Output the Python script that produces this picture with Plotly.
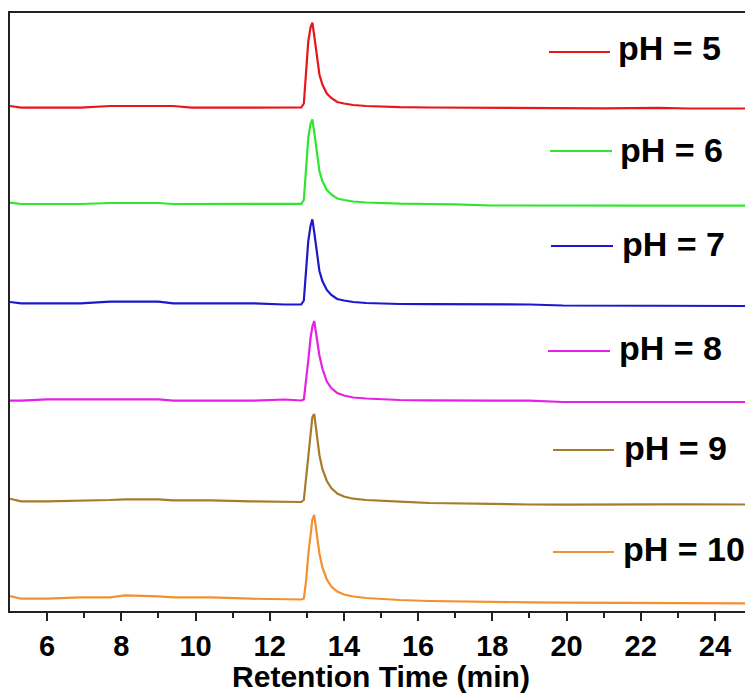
import plotly.graph_objects as go

# Retention time grid (min)
time_min = [5.0, 5.3, 6.0, 6.9, 7.7, 8.1, 9.0, 9.4, 9.9, 10.4, 11.5, 12.4, 12.85,
            12.92, 12.98, 13.04, 13.1, 13.15, 13.2, 13.27, 13.34, 13.42, 13.54,
            13.66, 13.82, 14.0, 14.25, 14.6, 15.0, 15.5, 16.3, 17.0, 18.0, 19.0,
            19.9, 21.0, 22.5, 23.3, 25.0]

# Stacked detector signals (arbitrary units, offsets included)
ph5 = [505, 503.3, 503.3, 503.3, 505, 505, 505, 505, 503.3, 503.3, 503.3, 503.3, 503.5,
       507.5, 541.5, 569.5, 583.5, 588.3, 575.5, 554.5, 536.5, 526.5, 517.5,
       513, 509, 507.5, 506, 505, 504.3, 503.8, 503.5, 503.3, 503, 503,
       503, 502.7, 503.2, 502.5, 502.5]
ph6 = [408.3, 407, 407, 407, 408, 408, 408, 407, 407, 407, 407, 407, 407.2,
       411, 445, 473, 487, 491.7, 479, 458, 440, 430, 421,
       416.5, 412.5, 411, 409.5, 408.5, 407.8, 407.3, 407, 406.7, 405.5, 405.3,
       405.3, 405.3, 405.3, 405.3, 405.3]
ph7 = [309, 307.7, 307.7, 307.7, 309.3, 309.3, 309.3, 307.7, 307.7, 307.7, 307.7, 306.5, 306.5,
       310.5, 343, 370, 385, 391.7, 379, 358, 340, 330, 321,
       316, 312, 310.5, 309, 308, 307.5, 307, 306.8, 306.7, 306.7, 306.5,
       305.5, 305.3, 305.3, 305.5, 305]
ph8 = [210.3, 210.3, 211.7, 211.7, 211.7, 211.7, 211.7, 210.3, 210.3, 210.3, 210.3, 211.5, 210.5,
       211.5, 228.5, 250.5, 272.5, 284.5, 290.0, 272.5, 255.5, 242.5, 229.5,
       223, 218, 215.5, 213.5, 212.5, 211.5, 211, 210.6, 210.3, 210.3, 210.3,
       209, 209, 209, 209, 209]
ph9 = [112.3, 109.7, 109.7, 110, 111, 111.7, 111.7, 110.7, 110.7, 110.7, 109.7, 109, 109,
       111, 133, 161, 183, 194, 197, 175, 156, 142, 130,
       123, 117.5, 114.5, 112.3, 111, 110, 109.3, 108, 107.5, 107, 106.5,
       106.3, 106.7, 106.7, 106.7, 106.5]
ph10 = [15, 12.3, 12.3, 13.7, 13.7, 15.7, 14.7, 13.7, 13.7, 13.7, 12.3, 11.5, 11.5,
        12.5, 29.5, 56.5, 79.5, 91.5, 96, 75.5, 57.5, 43.5, 31.5,
        24.5, 19.5, 16.5, 14.5, 13, 12, 11, 10, 9.5, 9, 8.7,
        8.3, 8.3, 8, 7.8, 7.7]

labels = ["pH = 5", "pH = 6", "pH = 7", "pH = 8", "pH = 9", "pH = 10"]
series = [ph5, ph6, ph7, ph8, ph9, ph10]
colors = ["#E8161B", "#2EE62E", "#1A1ACC", "#E620E6", "#A67C2A", "#F39130"]

x_ticks = [6, 8, 10, 12, 14, 16, 18, 20, 22, 24]

# page body has an 8px default margin; size the figure so that it fits the window
OFF = 8
W, H = 753 - OFF, 693 - OFF
ML, MR, MT, MB = 10 - OFF, 1, 13 - OFF, 82
pw, ph = W - ML - MR, H - MT - MB

fig = go.Figure()
for lab, ys, col in zip(labels, series, colors):
    fig.add_trace(go.Scatter(x=time_min, y=ys, mode="lines", name=lab,
                             line=dict(color=col, width=2.2), showlegend=False))

# custom legend placement (window pixel positions converted to paper coords)
leg_line = [(549, 610, 52), (550, 612, 151), (551, 613, 246),
            (548, 610, 351), (553, 614, 450), (553, 614, 552)]
leg_text = [(616, 48), (618, 150), (620, 244), (617, 348), (622, 448), (621, 549)]

def px(x):
    return (x - 10) / pw

def py(y):
    return (611 - y) / ph

font_family = "Liberation Sans, Arial, sans-serif"
for (x0, x1, yl), (tx, ty), lab, col in zip(leg_line, leg_text, labels, colors):
    fig.add_shape(type="line", xref="paper", yref="paper",
                  x0=px(x0), x1=px(x1), y0=py(yl), y1=py(yl),
                  line=dict(color=col, width=2.2))
    fig.add_annotation(xref="paper", yref="paper", x=px(tx), y=py(ty),
                       text="<b>" + lab + "</b>", showarrow=False,
                       xanchor="left", yanchor="middle",
                       font=dict(family=font_family, size=34, color="black"))

fig.update_layout(
    width=W, height=H,
    margin=dict(l=ML, r=MR, t=MT, b=MB, autoexpand=False),
    paper_bgcolor="white", plot_bgcolor="white",
    font=dict(family=font_family, color="black"),
    xaxis=dict(range=[5, 25], tickvals=x_ticks,
               ticktext=["<b>%d</b>" % v for v in x_ticks],
               ticks="outside", ticklen=8, tickwidth=2, tickcolor="#222",
               minor=dict(tickvals=[7, 9, 11, 13, 15, 17, 19, 21, 23],
                          ticks="outside", ticklen=5, tickwidth=2, tickcolor="#222"),
               showline=True, linewidth=2, linecolor="#222", mirror=True,
               showgrid=False, zeroline=False,
               tickfont=dict(size=29, family=font_family, color="black"),
               title=dict(text="<b>Retention Time (min)</b>", standoff=2,
                          font=dict(size=30, family=font_family, color="black"))),
    yaxis=dict(range=[0, 598], showticklabels=False, ticks="",
               showline=True, linewidth=2, linecolor="#222", mirror=True,
               showgrid=False, zeroline=False),
)

fig.write_html("out.html")
